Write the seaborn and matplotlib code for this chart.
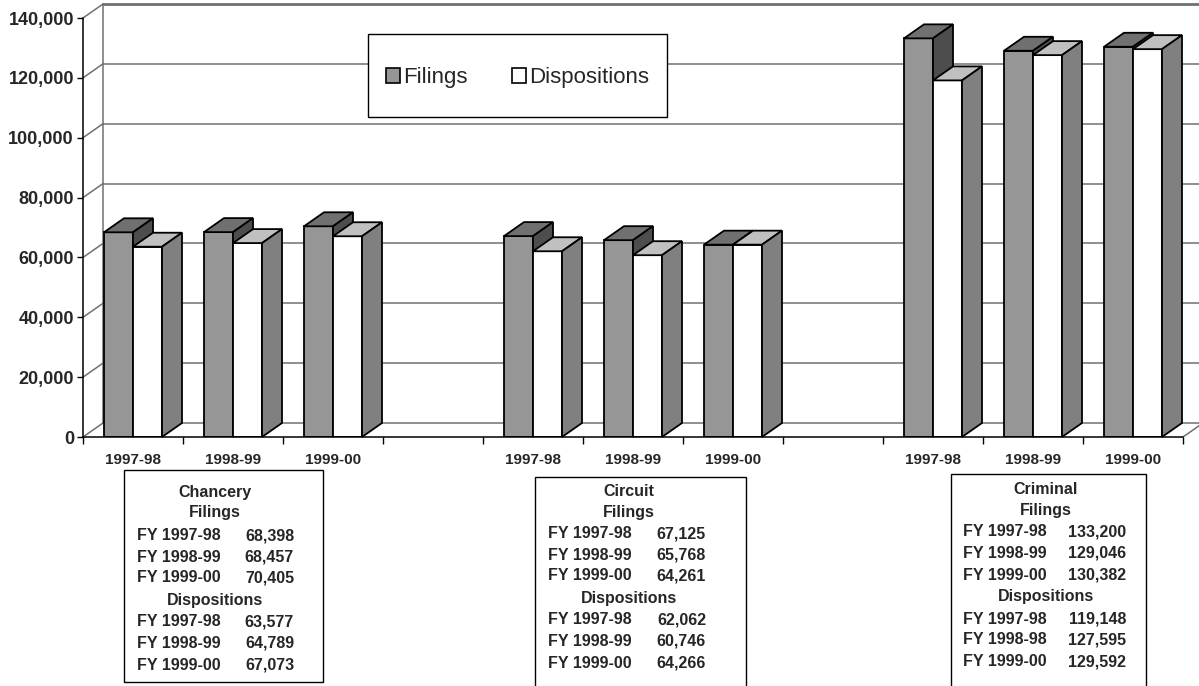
import numpy as np
import pandas as pd
import matplotlib
matplotlib.use("Agg")
import matplotlib.pyplot as plt
import seaborn as sns
from matplotlib.patches import Polygon, Rectangle, Patch
from matplotlib.lines import Line2D
from matplotlib.ticker import FuncFormatter

# ---------------- data ----------------
courts = ["Chancery", "Circuit", "Criminal"]
years = ["1997-98", "1998-99", "1999-00"]
series = ["Filings", "Dispositions"]

chancery_filings = [68398, 68457, 70405]
chancery_dispositions = [63577, 64789, 67073]
circuit_filings = [67125, 65768, 64261]
circuit_dispositions = [62062, 60746, 64266]
criminal_filings = [133200, 129046, 130382]
criminal_dispositions = [119148, 127595, 129592]

fy_labels = ["FY 1997-98", "FY 1998-99", "FY 1999-00"]
criminal_disp_labels = ["FY 1997-98", "FY 1998-98", "FY 1999-00"]

y_ticks = [0, 20000, 40000, 60000, 80000, 100000, 120000, 140000]

# ---------------- style ----------------
W, H = 1199, 686
sns.set_style("white")
plt.rcParams["font.family"] = ["Liberation Sans", "DejaVu Sans"]

colors_front = {"Filings": "#969696", "Dispositions": "#ffffff"}
colors_top = {"Filings": "#707070", "Dispositions": "#c0c0c0"}
colors_side = {"Filings": "#4d4d4d", "Dispositions": "#808080"}
grid_color = "#707070"
DEPTH_PX = (20, 14)

fig = plt.figure(figsize=(W / 100, H / 100), dpi=100)
ax_left, ax_bottom = 83 / W, 1 - 437 / H
ax_w, ax_h = 1100 / W, 419 / H
ax = fig.add_axes([ax_left, ax_bottom, ax_w, ax_h])
ax.patch.set_alpha(0)

# ---------------- dataframe ----------------
rows = []
all_f = [chancery_filings, circuit_filings, criminal_filings]
all_d = [chancery_dispositions, circuit_dispositions, criminal_dispositions]
order = []
for i, (court, f, d) in enumerate(zip(courts, all_f, all_d)):
    for yr, fv, dv in zip(years, f, d):
        slot = f"{court} {yr}"
        order.append(slot)
        rows.append({"slot": slot, "series": "Filings", "value": fv})
        rows.append({"slot": slot, "series": "Dispositions", "value": dv})
    if i < len(courts) - 1:
        order.append(" " * (i + 1))
df = pd.DataFrame(rows)

sns.barplot(data=df, x="slot", y="value", hue="series", order=order,
            hue_order=series, palette=colors_front, width=0.58, gap=0,
            edgecolor="black", linewidth=1.3, saturation=1, errorbar=None,
            legend=False, ax=ax)

n_slots = len(order)
ax.set_xlim(-0.5, n_slots - 0.5)
ax.set_ylim(0, y_ticks[-1])

# depth in data units
dx = DEPTH_PX[0] / (ax_w * W) * n_slots
dy = DEPTH_PX[1] / (ax_h * H) * (y_ticks[-1])

# ---------------- back wall ----------------
x0, x1 = -0.5, n_slots - 0.5
for v in y_ticks:
    lw = 2.0 if v == y_ticks[-1] else 1.1
    ax.add_line(Line2D([x0 + dx, x1 + dx], [v + dy, v + dy], color=grid_color,
                       lw=lw, zorder=1, clip_on=False))
    ax.add_line(Line2D([x0, x0 + dx], [v, v + dy], color=grid_color, lw=1.1,
                       zorder=1, clip_on=False))
ax.add_line(Line2D([x0 + dx, x0 + dx], [dy, y_ticks[-1] + dy], color=grid_color,
                   lw=1.1, zorder=1, clip_on=False))
ax.add_line(Line2D([x1, x1 + dx], [0, dy], color=grid_color, lw=1.1, zorder=1,
                   clip_on=False))

# ---------------- 3-D faces of bars ----------------
for k, (cont, name) in enumerate(zip(ax.containers, series)):
    base_z = 3 + 2 * k
    for p in cont:
        px, pw, ph = p.get_x(), p.get_width(), p.get_height()
        if np.isnan(ph):
            continue
        p.set_zorder(base_z)
        top = Polygon([(px, ph), (px + pw, ph), (px + pw + dx, ph + dy), (px + dx, ph + dy)],
                      closed=True, facecolor=colors_top[name], edgecolor="black",
                      lw=1.3, zorder=base_z + 0.5, clip_on=False)
        side = Polygon([(px + pw, 0), (px + pw + dx, dy), (px + pw + dx, ph + dy), (px + pw, ph)],
                       closed=True, facecolor=colors_side[name], edgecolor="black",
                       lw=1.3, zorder=base_z + 0.5, clip_on=False)
        ax.add_patch(top)
        ax.add_patch(side)

# ---------------- axes / ticks ----------------
sns.despine(ax=ax, top=True, right=True)
for s in ["left", "bottom"]:
    ax.spines[s].set_color("black")
    ax.spines[s].set_linewidth(1.1)
    ax.spines[s].set_zorder(20)

ax.set_yticks(y_ticks)
ax.yaxis.set_major_formatter(FuncFormatter(lambda v, _: f"{int(v):,}"))
ax.tick_params(axis="y", length=4.5, width=1.0, color="black", pad=2,
               labelsize=13, left=True)
for t in ax.get_yticklabels():
    t.set_fontweight("bold")

xt_labels = [s.split(" ")[1] if s.strip() else "" for s in order]
ax.set_xticks(range(n_slots))
ax.set_xticklabels(xt_labels, fontsize=11, fontweight="bold")
ax.tick_params(axis="x", which="major", length=0, pad=11.5)
ax.set_xticks(np.arange(-0.5, n_slots, 1), minor=True)
ax.tick_params(axis="x", which="minor", length=5, width=1.0, color="black",
               bottom=True)
ax.set_xlabel("")
ax.set_ylabel("")

# ---------------- legend ----------------
ax.add_patch(Rectangle((368 / W, 1 - 117 / H), 299 / W, 83 / H,
                       transform=fig.transFigure, facecolor="white",
                       edgecolor="black", lw=1.0, zorder=15, clip_on=False))
handles = [Patch(facecolor=colors_front[s], edgecolor="black", lw=1.2) for s in series]
leg = ax.legend(handles, series, loc="center", ncol=2,
                bbox_to_anchor=(518 / W, 1 - 78 / H), bbox_transform=fig.transFigure,
                frameon=False, fontsize=16, handlelength=0.62, handleheight=0.62,
                handletextpad=0.15, columnspacing=2.0, borderpad=0)
leg.set_zorder(16)

# ---------------- data tables ----------------
def table(box, cx, ys, title, fvals, dvals, left_x, right_x, flabels, dlabels):
    bx0, by0, bx1, by1 = box
    fig.add_artist(Rectangle((bx0 / W, 1 - by1 / H), (bx1 - bx0) / W, (by1 - by0) / H,
                             transform=fig.transFigure, facecolor="white",
                             edgecolor="black", lw=1.0))
    kw = dict(fontsize=11.5, fontweight="bold", va="center")
    fig.text(cx / W, 1 - ys[0] / H, title, ha="center", **kw)
    fig.text(cx / W, 1 - ys[1] / H, "Filings", ha="center", **kw)
    for j in range(3):
        fig.text(left_x / W, 1 - ys[2 + j] / H, flabels[j], ha="left", **kw)
        fig.text(right_x / W, 1 - ys[2 + j] / H, f"{fvals[j]:,}", ha="right", **kw)
    fig.text(cx / W, 1 - ys[5] / H, "Dispositions", ha="center", **kw)
    for j in range(3):
        fig.text(left_x / W, 1 - ys[6 + j] / H, dlabels[j], ha="left", **kw)
        fig.text(right_x / W, 1 - ys[6 + j] / H, f"{dvals[j]:,}", ha="right", **kw)

table((124, 470, 323, 682), 215, [492, 513, 536, 557, 578, 600, 622, 643, 665],
      courts[0], chancery_filings, chancery_dispositions, 137, 294, fy_labels, fy_labels)
table((535, 477, 746, 700), 629, [491, 512, 534, 555, 576, 598, 620, 641, 663],
      courts[1], circuit_filings, circuit_dispositions, 548, 706, fy_labels, fy_labels)
table((951, 474, 1146, 700), 1046, [489, 510, 532, 553, 575, 597, 619, 640, 662],
      courts[2], criminal_filings, criminal_dispositions, 963, 1126, fy_labels,
      criminal_disp_labels)

fig.savefig("out.png", dpi=100, facecolor="white")
